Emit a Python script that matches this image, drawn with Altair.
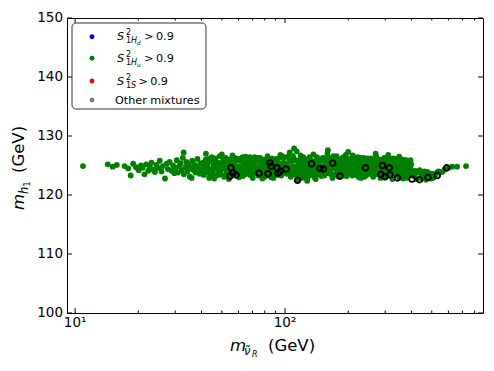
import altair as alt
import pandas as pd

# ---------------- data ----------------
green_a = [(10.9,124.9),(14.3,125.2),(15.1,124.8),(15.8,125.1),(17.2,124.9),(17.9,124.5),(18.4,123.3),(18.9,125.3),(19.5,124.7)]
green_b = [(20.1,124.2),(20.6,125.0),(21.0,124.6),(21.4,123.5),(21.8,125.2),(22.3,124.1),(22.7,124.8),(23.1,125.5),(23.6,124.3),(24.0,123.9),(24.4,125.1),(24.9,124.6),(25.3,125.8),(25.8,124.0),(26.2,124.9),(26.8,122.8),(27.3,125.3),(27.7,124.4),(28.2,125.6),(28.8,124.1),(29.3,125.0),(29.7,123.7)]
green_c = [(30.1,124.5),(30.5,125.9),(30.9,123.8),(31.3,124.9),(31.8,125.4),(32.2,124.2),(32.6,126.3),(33.0,123.5),(33.5,124.7),(33.9,125.6),(34.3,124.0),(34.8,125.1),(35.2,123.1),(35.6,124.6),(36.1,125.8),(36.5,124.3),(37.0,125.2),(37.4,123.8),(37.9,124.9),(38.3,126.1),(38.8,124.4),(39.2,123.6),(39.6,125.3),(32.9,127.2),(35.9,122.9),(38.0,124.8)]
green_d = [(40.2,124.1),(40.6,125.5),(41.0,123.4),(41.4,124.8),(41.9,126.0),(42.3,123.9),(42.7,125.2),(43.1,124.5),(43.5,122.9),(44.0,125.7),(44.4,124.3),(44.8,126.4),(45.3,123.7),(45.7,125.0),(46.2,124.6),(46.6,126.2),(47.1,123.3),(47.5,124.9),(48.0,125.5),(48.4,124.0),(48.9,126.6),(49.3,123.6),(49.8,125.3),(50.3,124.4),(50.8,125.9),(51.2,123.1),(51.7,124.7),(52.2,126.3),(52.7,123.8),(53.2,125.1),(53.7,124.2),(54.2,126.0),(54.7,123.4),(55.2,125.6),(55.7,124.5),(56.2,126.7),(56.8,123.9),(57.3,125.2),(57.8,124.1),(58.4,125.8),(58.9,123.5),(59.5,124.8),(42.0,127.0),(46.0,122.8),(50.0,126.9),(54.0,122.7)]
green_e = [(60.0,124.3),(60.6,125.8),(61.2,123.5),(61.8,126.2),(62.4,124.9),(63.0,123.2),(63.6,125.4),(64.2,124.1),(64.9,126.5),(65.5,123.8),(66.2,125.0),(66.8,124.5),(67.5,126.1),(68.2,123.4),(68.9,125.6),(69.5,124.2),(70.2,122.9),(70.9,125.2),(71.7,126.4),(72.4,123.9),(73.1,124.7),(73.8,125.9),(74.6,123.3),(75.3,124.4),(76.1,126.3),(76.9,125.1),(77.6,123.6),(78.4,124.8),(79.2,126.0),(80.0,123.1),(80.8,125.5),(81.6,124.0),(82.5,126.6),(83.3,123.7),(84.1,124.6),(85.0,125.3),(85.9,123.0),(86.7,126.2),(87.6,124.3),(88.5,125.7),(89.4,123.5),(90.3,124.9),(91.2,126.1),(92.1,123.9),(93.1,125.4),(94.0,124.2),(95.0,126.8),(95.9,123.3),(96.9,125.0),(97.9,124.5),(98.9,126.3),(99.9,123.8),(62.0,124.0),(66.0,124.6),(71.0,125.0),(76.0,124.8),(81.0,124.4),(86.0,124.9),(91.0,124.7),(96.0,124.2)]
green_f = [(100.9,125.2),(102.0,123.6),(103.1,126.5),(104.2,124.4),(105.3,127.2),(106.5,123.1),(107.6,125.7),(108.8,124.0),(110.0,126.2),(111.2,123.5),(112.4,124.9),(113.6,127.4),(114.8,122.6),(116.1,125.5),(117.3,124.2),(118.6,126.7),(119.9,123.3),(121.2,125.0),(122.5,124.6),(123.9,126.1),(125.2,123.8),(126.6,125.6),(128.0,122.8),(129.4,124.3),(130.8,126.4),(132.2,123.4),(133.7,125.1),(135.1,124.7),(136.6,126.9),(138.1,123.0),(139.6,125.4),(141.1,124.1),(142.7,126.0),(144.2,123.6),(145.8,124.8),(147.4,125.8),(149.0,123.2),(103.0,124.5),(108.0,124.8),(113.0,124.2),(118.0,125.0),(124.0,124.4),(130.0,124.9),(136.0,124.3),(142.0,124.7),(148.0,124.6),(110.5,127.9),(127.5,122.4)]
green_g = [(150.6,124.0),(152.3,126.3),(154.0,123.3),(155.7,125.5),(157.4,124.6),(159.2,127.0),(161.0,123.7),(162.8,125.1),(164.6,124.3),(166.4,126.0),(168.3,122.9),(170.2,125.8),(172.1,124.5),(174.0,123.5),(176.0,126.6),(178.0,124.9),(180.0,123.1),(182.0,125.3),(184.0,124.1),(186.1,126.2),(188.2,123.6),(190.3,125.0),(192.4,124.4),(194.6,126.8),(196.7,123.2),(198.9,125.6),(201.2,124.7),(203.4,126.1),(205.7,123.8),(208.0,125.2),(210.3,124.0),(212.6,126.4),(215.0,123.4),(217.4,125.7),(219.8,124.8),(222.3,125.9),(224.7,123.0),(227.2,124.2),(229.8,126.3),(232.3,123.7),(234.9,125.4),(237.5,124.6),(240.2,126.0),(242.9,123.3),(245.6,125.1),(248.3,124.3),(155.0,124.8),(165.0,124.5),(175.0,124.9),(185.0,124.6),(195.0,124.4),(205.0,124.8),(215.0,124.5),(225.0,124.9),(235.0,124.3),(245.0,124.7),(160.0,127.6),(200.0,127.3)]
green_h = [(251,125.5),(254,123.8),(257,126.2),(260,124.4),(263,123.1),(266,125.9),(269,124.7),(272,126.5),(275,123.5),(278,125.2),(281,124.1),(284,126.0),(287,123.3),(291,125.6),(294,124.6),(297,126.3),(301,123.0),(304,124.9),(308,125.7),(311,123.6),(315,124.3),(318,126.1),(322,123.2),(326,125.3),(330,124.5),(334,125.9),(338,123.4),(342,124.8),(346,126.0),(350,123.0),(354,125.1),(358,124.2),(362,125.7),(366,123.5),(371,124.6),(375,125.4),(379,122.9),(384,124.0),(388,125.2),(393,123.3),(397,124.4),(260,124.8),(280,124.6),(300,124.5),(320,124.9),(340,124.3),(360,124.7),(380,124.1),(270,127.0),(310,126.8),(350,126.5),(390,125.6)]
green_i = [(403,124.0),(410,123.2),(417,124.1),(424,122.7),(431,123.8),(438,124.2),(446,122.9),(453,123.5),(461,124.0),(469,122.6),(477,123.9),(485,123.1),(494,122.8),(502,123.6),(511,123.0),(520,123.4),(529,123.8),(538,124.0),(415,123.5),(445,123.6),(475,123.3),(505,122.9)]
green_j = [(560,123.9),(575,124.3),(600,124.6),(625,124.8),(660,124.8),(728,124.9)]
green_k = [(40.9,124.7),(42.5,125.8),(43.8,123.6),(45.0,124.4),(46.9,125.4),(48.2,123.4),(49.6,124.6),(51.0,125.6),(52.4,124.9),(53.5,123.6),(55.0,124.1),(56.5,125.3),(58.0,123.7),(59.2,126.1),(61.5,124.6),(63.3,125.9),(65.2,124.3),(67.2,123.7),(69.2,125.3),(71.3,124.0),(73.5,126.0),(75.6,123.6),(77.3,125.5),(79.6,124.6),(82.0,123.4),(84.5,125.9),(87.2,123.8),(89.9,126.0),(92.6,124.4),(95.5,123.6),(98.4,125.5),(44.2,123.2),(52.0,123.3),(60.3,123.0),(68.0,126.4),(78.0,122.8),(88.0,122.9),(97.0,126.6)]
green_l = [(101.5,124.0),(104.8,125.8),(107.0,123.3),(109.5,124.6),(111.8,125.9),(115.5,123.8),(117.9,126.0),(120.5,124.1),(123.2,123.0),(126.0,124.9),(128.7,126.0),(131.5,123.9),(134.4,124.5),(137.3,125.7),(140.4,123.4),(143.4,125.2),(146.6,124.0),(149.8,126.2),(153.1,124.9),(156.5,123.8),(160.0,125.8),(163.6,123.9),(167.2,124.8),(171.0,123.4),(174.9,125.6),(178.9,123.8),(183.0,126.0),(187.2,124.3),(191.4,123.3),(195.7,125.4),(200.1,124.0),(204.5,125.6),(209.2,123.3),(213.9,124.6),(218.6,126.1),(223.5,124.3),(228.5,125.6),(233.6,124.0),(238.8,123.1),(244.2,125.8),(249.6,123.6),(120.0,122.9),(140.0,122.7),(170.0,126.6),(190.0,126.4),(230.0,122.9),(210.0,126.7)]
green_m = [(252,124.1),(258,125.0),(264,124.0),(267,123.6),(273,125.0),(277,124.2),(283,123.6),(289,124.9),(293,123.8),(299,125.5),(303,124.3),(307,123.3),(313,125.2),(317,123.8),(324,124.1),(328,126.2),(332,123.7),(336,124.5),(344,125.4),(348,124.0),(352,123.6),(356,125.7),(364,124.3),(368,125.9),(373,123.7),(377,125.9),(382,124.7),(386,123.5),(391,124.8),(395,123.7),(399,125.2),(285,122.9),(325,122.7),(365,122.8)]
green_n = [(41.5,125.0),(43.0,126.1),(44.6,123.9),(46.4,125.9),(47.8,124.3),(49.0,123.9),(50.6,125.1),(52.9,126.0),(54.4,124.8),(56.0,123.5),(57.6,126.3),(59.8,123.9),(61.0,124.8),(62.8,126.4),(64.6,123.5),(66.5,125.6),(68.6,124.7),(70.6,123.6),(72.7,125.6),(74.2,126.3),(76.5,124.2),(78.8,125.9),(81.2,124.9),(83.8,126.0),(86.3,124.2),(88.9,124.7),(91.6,123.4),(94.4,126.3),(97.3,124.7),(99.2,125.1),
           (102.6,124.9),(105.8,123.8),(109.1,126.6),(112.9,124.4),(116.7,123.4),(119.2,125.5),(122.0,126.4),(125.6,124.5),(129.1,123.5),(132.9,125.9),(136.0,123.7),(139.0,124.9),(141.9,126.4),(145.0,125.5),(148.3,123.8),(151.5,124.6),(154.8,126.1),(158.3,124.3),(161.8,126.3),(165.5,123.5),(169.2,125.3),(173.0,126.2),(177.0,123.9),(181.1,124.5),(185.3,125.7),(189.6,123.9),(193.9,126.0),(198.4,123.7),(202.9,125.3),(207.5,124.2),(212.2,125.2),(217.0,123.7),(221.9,126.4),(226.9,123.6),(231.9,125.1),(237.0,126.3),(242.2,124.1),(247.5,126.2),
           (253,126.1),(259,123.5),(265,125.4),(271,124.0),(276,126.0),(282,125.5),(288,124.2),(295,123.4),(302,126.0),(309,124.5),(316,125.6),(323,124.4),(331,125.0),(339,126.1),(347,123.6),(355,124.5),(363,126.0),(372,125.0),(381,125.6),(389,124.2),(396,125.9),(400,123.9)]

circles = [(55.3,124.6),(56.5,123.7),(54.7,123.2),(58.4,123.4),(75.2,123.7),(83.0,123.6),(84.8,125.5),(85.8,124.9),(91.6,124.6),(92.6,123.7),(94.7,124.0),(101.1,124.4),(114.7,122.5),(133.7,125.3),(146.8,124.5),(152.2,124.4),(168.7,125.4),(182.8,123.2),(241.7,124.6),(291.3,125.0),(313.8,124.6),(286.5,123.5),(299.4,123.1),(316.2,123.4),(343.4,122.9),(402.5,122.7),(437.0,122.6),(479.7,123.0),(531.0,123.3),(589.0,124.6)]

y_ticks = [100, 110, 120, 130, 140, 150]
y_labels = ["100", "110", "120", "130", "140", "150"]
x_major = [10, 100]
x_labels = ["10¹", "10²"]
x_minor = [20, 30, 40, 50, 60, 70, 80, 90, 200, 300, 400, 500, 600, 700, 800]

# ---------------- build ----------------
green = (green_a + green_b + green_c + green_d + green_e + green_f + green_g + green_h
         + green_i + green_j + green_k + green_l + green_m + green_n)
gdf = pd.DataFrame(green, columns=["x", "y"])
cdf = pd.DataFrame(circles, columns=["x", "y"])
one = pd.DataFrame({"k": [0]})

FONT = "DejaVu Sans"
W, H = 416, 295
xs = alt.Scale(type="log", domain=[9.15, 877], nice=False)
ys = alt.Scale(domain=[100, 150], nice=False, zero=False)

pts = alt.Chart(gdf).mark_point(filled=True, shape="circle", size=34, color="#008000", opacity=1).encode(
    x=alt.X("x:Q", scale=xs, axis=None), y=alt.Y("y:Q", scale=ys, axis=None))
circ = alt.Chart(cdf).mark_point(filled=False, shape="circle", size=32, color="black",
                                 strokeWidth=1.9, opacity=1).encode(
    x=alt.X("x:Q", scale=xs, axis=None), y=alt.Y("y:Q", scale=ys, axis=None))

layers = [pts, circ]

# ticks (inward, on all four sides)
ydf = pd.DataFrame({"v": y_ticks, "lbl": y_labels})
for x0, x1 in [(0, 5), (W - 5, W)]:
    layers.append(alt.Chart(ydf).mark_rule(color="black", strokeWidth=1).encode(
        y=alt.Y("v:Q", scale=ys, axis=None), x=alt.value(x0), x2=alt.value(x1)))
for vals, ln in [(x_major, 5), (x_minor, 2.5)]:
    xdf = pd.DataFrame({"v": vals})
    for y0, y1 in [(H, H - ln), (0, ln)]:
        layers.append(alt.Chart(xdf).mark_rule(color="black", strokeWidth=1).encode(
            x=alt.X("v:Q", scale=xs, axis=None), y=alt.value(y0), y2=alt.value(y1)))

# tick labels
layers.append(alt.Chart(ydf).mark_text(font=FONT, fontSize=13.5, align="right", baseline="middle",
                                       color="black").encode(
    y=alt.Y("v:Q", scale=ys, axis=None), x=alt.value(-4), text="lbl:N"))
xldf = pd.DataFrame({"v": x_major, "lbl": x_labels})
layers.append(alt.Chart(xldf).mark_text(font=FONT, fontSize=13.5, align="center", baseline="top",
                                        color="black").encode(
    x=alt.X("v:Q", scale=xs, axis=None), y=alt.value(H + 3), text="lbl:N"))


def txt(s, x, y, size, italic=False, angle=0):
    return alt.Chart(one).mark_text(text=s, font=FONT, fontSize=size,
                                    fontStyle="italic" if italic else "normal",
                                    align="left", baseline="alphabetic", angle=angle,
                                    color="black").encode(x=alt.value(x), y=alt.value(y))


# legend box
layers.append(alt.Chart(one).mark_rect(fill="white", stroke="#333333", strokeWidth=1,
                                       cornerRadius=4).encode(
    x=alt.value(5), x2=alt.value(139), y=alt.value(5), y2=alt.value(91)))
leg_colors = ["#0000ff", "#008000", "#ff0000", "#808080"]
leg_rows = [18.7, 40.3, 63.0, 82.0]
for c, r in zip(leg_colors, leg_rows):
    layers.append(alt.Chart(one).mark_point(filled=True, shape="circle", size=24, color=c,
                                            opacity=1).encode(x=alt.value(25), y=alt.value(r)))

MS = 11.2
for r, sub2 in [(leg_rows[0], "d"), (leg_rows[1], "u")]:
    b = r + 3.5
    layers += [txt("S", 50, b, MS, True), txt("2", 59, b - 4.8, 8),
               txt("1", 59, b + 3.2, 8), txt("H", 64.1, b + 3.2, 8, True),
               txt(sub2, 70, b + 5, 5.8, True), txt(">", 77.3, b, MS), txt("0.9", 89, b, MS)]
b = leg_rows[2] + 3.5
layers += [txt("S", 50, b, MS, True), txt("2", 59, b - 4.8, 8),
           txt("1", 59, b + 3.2, 8), txt("S", 64.1, b + 3.2, 8, True),
           txt(">", 71.5, b, MS), txt("0.9", 83.2, b, MS)]
layers.append(txt("Other mixtures", 48, leg_rows[3] + 4, 11.2))

# x-axis title  m_{nu~_R} (GeV)
layers += [txt("m", 163, 333, 16.5, True), txt("ν̃", 177, 336.5, 11.5, True),
           txt("R", 185, 338.5, 8, True), txt("(GeV)", 201, 333, 16.5)]
# y-axis title  m_{h_1} (GeV), rotated
layers += [txt("m", -43, 192, 16.5, True, 270), txt("h", -39, 176, 11.5, True, 270),
           txt("1", -37, 168.5, 8, False, 270), txt("(GeV)", -43, 155, 16.5, False, 270)]

chart = alt.layer(*layers).properties(
    width=W, height=H,
    padding={"left": 59, "top": 10, "right": 3, "bottom": 50},
    autosize=alt.AutoSizeParams(type="none"),
).configure_view(stroke="black", strokeWidth=1)

chart.save("out.html", embed_options={"renderer": "svg", "actions": False})
